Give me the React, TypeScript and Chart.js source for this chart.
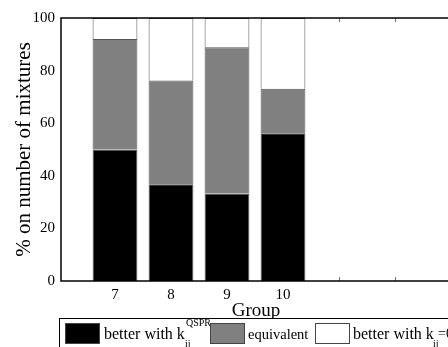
import React, { useEffect, useRef } from 'react';
import { Chart, registerables } from 'chart.js';
Chart.register(...registerables);

const groups = [7, 8, 9, 10];
const betterQSPR = [50, 36.8, 33.3, 56.2];
const equivalent = [42, 39.4, 55.6, 16.9];
const betterZero = [8, 23.8, 11.1, 26.9];
const xTickValues = [7, 8, 9, 10, 11, 12, 13];
const xTickLabels = ['7', '8', '9', '10', '', '', ''];
const seriesColors = ['#000000', '#808080', '#ffffff'];

const FONT = "'Liberation Serif', 'Times New Roman', serif";

const framePlugin = {
  id: 'frame',
  beforeDatasetsDraw(chart: any) {
    const { ctx, chartArea: a, scales } = chart;
    const x = scales.x;
    ctx.save();
    ctx.strokeStyle = '#777';
    ctx.lineWidth = 1;
    xTickValues.forEach((v) => {
      const px = Math.round(x.getPixelForValue(v)) + 0.5;
      ctx.beginPath();
      ctx.moveTo(px, a.top);
      ctx.lineTo(px, a.top + 4);
      ctx.moveTo(px, a.bottom);
      ctx.lineTo(px, a.bottom - 4);
      ctx.stroke();
    });
    ctx.restore();
  },
  afterDatasetsDraw(chart: any) {
    const { ctx, chartArea: a } = chart;
    ctx.save();
    ctx.strokeStyle = '#000';
    ctx.lineWidth = 1.5;
    ctx.strokeRect(a.left, a.top, a.right - a.left, a.bottom - a.top);
    ctx.restore();
  },
};

export default function App() {
  const ref = useRef<HTMLCanvasElement>(null);
  useEffect(() => {
    if (!ref.current) return;
    const mk = (label: string, vals: number[], color: string) => ({
      label,
      data: groups.map((g, i) => ({ x: g, y: vals[i] })),
      backgroundColor: color,
      borderColor: '#555',
      borderWidth: 1,
      categoryPercentage: 1,
      barPercentage: 0.8,
    });
    const chart = new Chart(ref.current, {
      type: 'bar',
      data: {
        datasets: [
          mk('better with kij QSPR', betterQSPR, seriesColors[0]),
          mk('equivalent', equivalent, seriesColors[1]),
          mk('better with kij=0', betterZero, seriesColors[2]),
        ],
      },
      plugins: [framePlugin],
      options: {
        animation: false,
        responsive: false,
        layout: { padding: { top: 18, right: 29, left: 0, bottom: 0 } },
        plugins: { legend: { display: false }, tooltip: { enabled: false } },
        scales: {
          x: {
            type: 'linear',
            stacked: true,
            offset: false,
            min: 6.036,
            max: 13,
            grid: { display: false, drawTicks: false },
            border: { display: false },
            afterBuildTicks: (s: any) => {
              s.ticks = xTickValues.map((v) => ({ value: v }));
            },
            afterFit: (s: any) => {
              s.height = 66;
            },
            ticks: {
              autoSkip: false,
              maxRotation: 0,
              padding: 5,
              color: '#000',
              font: { family: FONT, size: 15 },
              callback: (_v: any, i: number) => xTickLabels[i],
            },
            title: {
              display: true,
              text: 'Group',
              color: '#000',
              font: { family: FONT, size: 19 },
              padding: { top: 0, bottom: 25 },
            },
          },
          y: {
            stacked: true,
            min: 0,
            max: 100,
            grid: { display: false, drawTicks: false },
            border: { display: false },
            afterFit: (s: any) => {
              s.width = 61;
            },
            ticks: {
              stepSize: 20,
              padding: 6,
              color: '#000',
              font: { family: FONT, size: 15 },
            },
            title: {
              display: true,
              text: '% on number of mixtures',
              color: '#000',
              font: { family: FONT, size: 21 },
              padding: { top: 12, bottom: 0 },
            },
          },
        },
      },
    });
    return () => chart.destroy();
  }, []);

  const txt = (left: number, top: number, size: number, content: string) => (
    <span
      style={{
        position: 'absolute',
        left,
        top,
        fontSize: size,
        lineHeight: `${size}px`,
        fontFamily: FONT,
        whiteSpace: 'nowrap',
        color: '#000',
      }}
    >
      {content}
    </span>
  );
  const swatch = (left: number, color: string) => (
    <div
      style={{
        position: 'absolute',
        left,
        top: 323,
        width: 35,
        height: 21,
        background: color,
        border: '1px solid #444',
        boxSizing: 'border-box',
      }}
    />
  );

  return (
    <div
      style={{
        position: 'fixed',
        left: 0,
        top: 0,
        width: 448,
        height: 347,
        overflow: 'hidden',
        background: '#fff',
      }}
    >
      <canvas ref={ref} width={480} height={347} style={{ display: 'block', width: 480, height: 347 }} />
      <div
        style={{
          position: 'absolute',
          left: 59,
          top: 318,
          width: 440,
          height: 40,
          border: '1px solid #000',
          background: '#fff',
        }}
      />
      {swatch(65, seriesColors[0])}
      {txt(104, 325.6, 16, 'better with k')}
      {txt(186, 318, 10, 'QSPR')}
      {txt(185, 338.6, 10, 'ij')}
      {swatch(210, seriesColors[1])}
      {txt(248, 326.8, 14.5, 'equivalent')}
      {swatch(315, seriesColors[2])}
      {txt(353, 325.6, 16, 'better with k')}
      {txt(433, 338.6, 10, 'ij')}
      {txt(438, 327, 14, '=0')}
    </div>
  );
}
